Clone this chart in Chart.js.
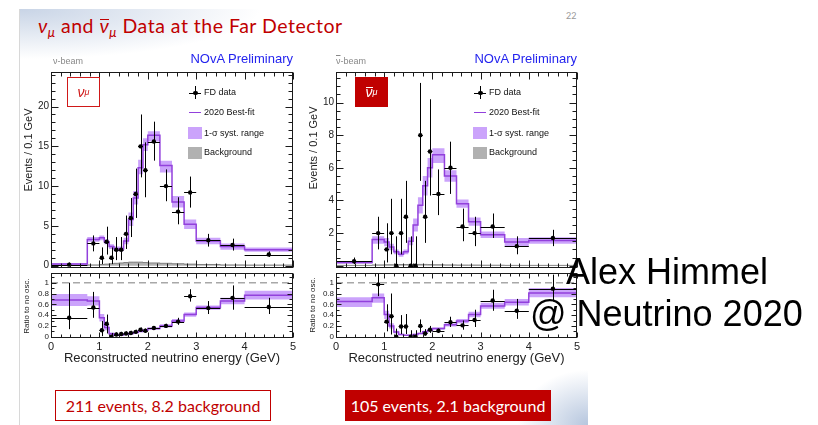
<!DOCTYPE html>
<html>
<head>
<meta charset="utf-8">
<script src="https://cdn.jsdelivr.net/npm/chart.js@4.4.1/dist/chart.umd.min.js"></script>
<style>
  html, body { margin: 0; padding: 0; background: #fff; }
  #slide { position: relative; width: 818px; height: 425px; overflow: hidden; background: #fff; font-family: "Liberation Sans", Arial, sans-serif; }
  .abs { position: absolute; white-space: nowrap; line-height: 1; }
  canvas { position: absolute; }
  .page { position: absolute; left: 19px; top: 9px; width: 568px; height: 416px;
    background:
      radial-gradient(ellipse 240px 50px at 0 0, #c8d4e6 0%, rgba(255,255,255,0) 100%),
      radial-gradient(ellipse 70px 55px at 100% 100%, #b6c6de 0%, rgba(255,255,255,0) 100%);
    border-left: 1px solid #d8d8d8; }
  .title { left: 38px; top: 16px; font-family: Lato, sans-serif; font-size: 19.5px; letter-spacing: 0.5px; color: #c00000; }
  .title sub { font-size: 13px; vertical-align: -4px; }
  .over { text-decoration: overline; }
  .bar { display: inline-block; line-height: 0.6em; border-top: 1.3px solid currentColor; }
  .pageno { left: 566px; top: 11px; font-family: Lato, sans-serif; font-size: 9px; color: #999; }
  .nova { font-size: 13px; color: #2424ee; text-align: right; top: 52px; }
  .beam { font-size: 9px; color: #888; top: 57px; }
  .ytitle { font-size: 11px; color: #222; transform: translate(-50%, -50%) rotate(-90deg); }
  .rtitle { font-size: 8px; color: #222; transform: translate(-50%, -50%) rotate(-90deg); }
  .tag { width: 33px; height: 30px; box-sizing: border-box; display: flex; align-items: center; justify-content: center; font-size: 14px; }
  .tag sub { font-size: 9px; vertical-align: -4px; }
  .leg { font-size: 9px; color: #111; }
  .mk { position: absolute; }
  .events { height: 31px; box-sizing: border-box; display: flex; align-items: center; justify-content: center; font-family: Lato, sans-serif; font-size: 16px; }
  .author { font-size: 36px; color: #000; }
</style>
</head>
<body>
<div id="slide">
  <div class="page"></div>
  <div class="abs title"><i>ν</i><sub><i>μ</i></sub> and <i class="bar">ν</i><sub><i>μ</i></sub> Data at the Far Detector</div>
  <div class="abs pageno">22</div>

  <canvas id="numuTop" width="286" height="210" style="left:14px; top:62px;"></canvas>
  <canvas id="numuRatioPanel" width="286" height="100" style="left:14px; top:266px;"></canvas>
  <canvas id="anumuTop" width="285" height="210" style="left:299px; top:62px;"></canvas>
  <canvas id="anumuRatioPanel" width="285" height="100" style="left:299px; top:266px;"></canvas>

  <div class="abs beam" style="left:53px;">ν-beam</div>
  <div class="abs beam" style="left:336px;"><span class="over">ν</span>-beam</div>
  <div class="abs nova" style="right:525px;">NOvA Preliminary</div>
  <div class="abs nova" style="right:241px;">NOvA Preliminary</div>

  <div class="abs ytitle" style="left:28px; top:150px;">Events / 0.1 GeV</div>
  <div class="abs ytitle" style="left:313px; top:148px;">Events / 0.1 GeV</div>
  <div class="abs rtitle" style="left:27px; top:306px;">Ratio to no osc.</div>
  <div class="abs rtitle" style="left:313px; top:305px;">Ratio to no osc.</div>

  <div class="abs tag" style="left:67px; top:77px; border:1.5px solid #d01818; color:#d01818;"><i>ν</i><sub><i>μ</i></sub></div>
  <div class="abs tag" style="left:355px; top:77px; background:#c00000; color:#fff;"><i class="bar">ν</i><sub><i>μ</i></sub></div>

  <div id="legNumu"></div>
  <div id="legAnumu"></div>

  <div class="abs events" style="left:55px; top:390px; width:216px; border:1.5px solid #c00000; color:#c00000; background:#fff;">211 events, 8.2 background</div>
  <div class="abs events" style="left:345px; top:390px; width:206px; background:#c00000; color:#fff;">105 events, 2.1 background</div>

  <div class="abs author" style="left:566px; top:254px;">Alex Himmel</div>
  <div class="abs author" style="left:530px; top:296px;">@ Neutrino 2020</div>
</div>

<script>
// binning in reconstructed energy (GeV)
const binEdges = [0, 0.75, 1, 1.1, 1.2, 1.3, 1.4, 1.5, 1.6, 1.7, 1.8, 1.9, 2, 2.25, 2.5, 2.75, 3, 3.5, 4, 5];
const energyTicks = [0, 1, 2, 3, 4, 5];
const numuTicks = [0, 5, 10, 15, 20];
const anumuTicks = [2, 4, 6, 8, 10];
const ratioTicks = [0, 0.2, 0.4, 0.6, 0.8, 1];

// numu, events / 0.1 GeV
const numuData   = [0.13, 2.8, 1.0, 3.0, 1.0, 2.0, 2.0, 4.0, 6.0, 9.0, 15.0, 12.0, 15.6, 10.0, 6.8, 9.2, 3.2, 2.6, 1.4];
const numuDataLo = [0.02, 1.8, 0.2, 1.4, 0.2, 0.7, 0.7, 2.1, 3.6, 6.0, 11.1, 8.6, 13.2, 8.1, 5.2, 7.3, 2.4, 1.9, 1.1];
const numuDataHi = [0.4, 3.8, 2.3, 4.9, 2.3, 3.6, 3.6, 6.3, 8.5, 12.2, 19.0, 15.5, 18.1, 12.1, 8.6, 11.2, 4.0, 3.4, 1.8];
const numuFit    = [0.2, 3.3, 3.5, 3.0, 2.4, 2.1, 2.1, 3.1, 5.8, 8.5, 12.3, 15.2, 16.4, 12.6, 8.0, 5.2, 3.1, 2.4, 2.0];
const numuFitLo  = [0.1, 3.0, 3.2, 2.7, 2.1, 1.8, 1.8, 2.7, 5.0, 7.7, 11.5, 14.4, 15.6, 11.7, 7.3, 4.6, 2.7, 2.0, 1.75];
const numuFitHi  = [0.3, 3.6, 3.8, 3.3, 2.7, 2.4, 2.4, 3.5, 6.7, 9.4, 13.3, 16.0, 16.9, 13.2, 8.75, 5.8, 3.5, 2.8, 2.3];
const numuBkg    = [0.03, 0.1, 0.15, 0.2, 0.25, 0.3, 0.35, 0.4, 0.45, 0.45, 0.45, 0.4, 0.35, 0.3, 0.25, 0.2, 0.15, 0.1, 0.08];

// numu, ratio to no oscillation
const numuRatio      = [0.35, 0.54, 0.12, 0.24, 0.0, 0.04, 0.05, 0.06, 0.07, 0.09, 0.13, 0.11, 0.16, 0.2, 0.28, 0.75, 0.53, 0.72, 0.55];
const numuRatioLo    = [0.14, 0.35, 0.01, 0.06, 0.0, 0.01, 0.02, 0.03, 0.04, 0.06, 0.1, 0.08, 0.14, 0.17, 0.22, 0.65, 0.42, 0.5, 0.42];
const numuRatioHi    = [1.0, 0.83, 0.29, 0.41, 0.07, 0.08, 0.09, 0.1, 0.11, 0.13, 0.17, 0.15, 0.19, 0.24, 0.35, 0.88, 0.66, 0.95, 0.72];
const numuRatioFit   = [0.68, 0.66, 0.35, 0.17, 0.055, 0.03, 0.03, 0.045, 0.06, 0.08, 0.1, 0.12, 0.15, 0.2, 0.29, 0.41, 0.54, 0.66, 0.77];
const numuRatioFitLo = [0.57, 0.58, 0.28, 0.12, 0.03, 0.015, 0.015, 0.03, 0.04, 0.06, 0.08, 0.1, 0.13, 0.17, 0.26, 0.37, 0.5, 0.6, 0.69];
const numuRatioFitHi = [0.79, 0.75, 0.42, 0.22, 0.08, 0.045, 0.045, 0.06, 0.08, 0.1, 0.12, 0.14, 0.17, 0.23, 0.33, 0.45, 0.58, 0.72, 0.85];

// anti-numu, events / 0.1 GeV
const anumuData   = [0.27, 2.0, 1.0, 2.0, 0, 2.0, 3.0, 0, 0, 8.0, 3.0, 7.0, 4.4, 6.0, 2.4, 2.0, 2.4, 1.2, 1.7];
const anumuDataLo = [0.1, 1.0, 0.2, 0.7, 0, 0.7, 1.4, 0, 0, 5.2, 1.4, 4.3, 3.1, 4.4, 1.5, 1.2, 1.7, 0.7, 1.2];
const anumuDataHi = [0.5, 3.0, 2.6, 4.1, 1.8, 4.1, 5.2, 1.8, 1.8, 11.2, 5.2, 10.2, 5.9, 7.6, 3.5, 3.0, 3.2, 1.8, 2.2];
const anumuFit    = [0.2, 1.6, 1.45, 1.15, 0.85, 0.7, 0.85, 1.5, 2.5, 3.7, 4.9, 6.0, 6.8, 5.5, 3.8, 2.7, 1.9, 1.45, 1.55];
const anumuFitLo  = [0.12, 1.35, 1.2, 0.95, 0.7, 0.55, 0.7, 1.25, 2.1, 3.2, 4.3, 5.4, 6.3, 5.15, 3.55, 2.45, 1.7, 1.2, 1.35];
const anumuFitHi  = [0.28, 1.8, 1.7, 1.35, 1.0, 0.85, 1.0, 1.75, 2.9, 4.2, 5.5, 6.6, 7.2, 5.85, 4.05, 2.95, 2.1, 1.7, 1.75];
const anumuBkg    = [0.02, 0.05, 0.06, 0.06, 0.06, 0.07, 0.07, 0.08, 0.08, 0.08, 0.08, 0.07, 0.06, 0.05, 0.04, 0.04, 0.03, 0.02, 0.02];

// anti-numu, ratio to no oscillation
const anumuRatio      = [null, 0.97, 0.28, 0.38, 0.0, 0.19, 0.19, 0.0, 0.0, 0.2, 0.06, 0.13, 0.11, 0.27, 0.21, 0.31, 0.67, 0.48, 0.89];
const anumuRatioLo    = [null, 0.75, 0.1, 0.04, 0.0, 0.05, 0.05, 0.0, 0.0, 0.08, 0.02, 0.07, 0.07, 0.18, 0.13, 0.18, 0.48, 0.33, 0.65];
const anumuRatioHi    = [null, 1.2, 0.6, 0.8, 0.15, 0.4, 0.42, 0.12, 0.12, 0.32, 0.14, 0.2, 0.15, 0.37, 0.3, 0.5, 0.87, 0.7, 1.15];
const anumuRatioFit   = [0.65, 0.72, 0.41, 0.2, 0.085, 0.04, 0.025, 0.025, 0.04, 0.06, 0.09, 0.12, 0.15, 0.22, 0.29, 0.41, 0.57, 0.64, 0.81];
const anumuRatioFitLo = [0.55, 0.63, 0.33, 0.15, 0.06, 0.025, 0.015, 0.015, 0.025, 0.045, 0.07, 0.1, 0.13, 0.19, 0.25, 0.36, 0.52, 0.58, 0.73];
const anumuRatioFitHi = [0.73, 0.8, 0.48, 0.25, 0.11, 0.055, 0.035, 0.035, 0.055, 0.075, 0.11, 0.14, 0.17, 0.25, 0.33, 0.46, 0.63, 0.7, 0.9];

const axisFont = '"Liberation Sans", Arial, sans-serif';
const fitLine = '#9240dc';
const bandFill = 'rgba(190, 140, 250, 0.8)';
const bkgFill = 'rgba(125, 125, 125, 0.6)';

// step histogram: value i holds from edge i to edge i+1
function histPoints(vals) {
    return binEdges.map((e, i) => ({ x: e, y: vals[Math.min(i, vals.length - 1)] }));
}

function centrePoints(vals) {
    return vals.map((v, i) => ({ x: (binEdges[i] + binEdges[i + 1]) / 2, y: v }));
}

// horizontal bin-width bar + vertical stat error for data points
const errorBars = {
    id: 'errorBars',
    afterDatasetsDraw(chart) {
        const { ctx, chartArea: a, scales: { x, y } } = chart;
        chart.data.datasets.forEach(ds => {
            if (!ds.errLo) return;
            ctx.save();
            ctx.beginPath();
            ctx.rect(a.left, a.top, a.width, a.height);
            ctx.clip();
            ctx.strokeStyle = '#000';
            ctx.lineWidth = 1;
            ds.vals.forEach((v, i) => {
                if (v === null) return;
                const xl = x.getPixelForValue(binEdges[i]);
                const xr = x.getPixelForValue(binEdges[i + 1]);
                const xc = Math.round(x.getPixelForValue((binEdges[i] + binEdges[i + 1]) / 2)) + 0.5;
                const yc = Math.round(y.getPixelForValue(v)) + 0.5;
                ctx.beginPath();
                ctx.moveTo(xl, yc);
                ctx.lineTo(xr, yc);
                ctx.moveTo(xc, y.getPixelForValue(ds.errLo[i]));
                ctx.lineTo(xc, y.getPixelForValue(ds.errHi[i]));
                ctx.stroke();
            });
            ctx.restore();
        });
    }
};

// ROOT-style box with inward ticks on all four sides
const rootFrame = {
    id: 'rootFrame',
    afterDraw(chart, args, o) {
        const { ctx, chartArea: a, scales: { x, y } } = chart;
        ctx.save();
        ctx.strokeStyle = '#1a1a1a';
        ctx.lineWidth = 1;
        const L = Math.round(a.left) + 0.5, R = Math.round(a.right) - 0.5;
        const T = Math.round(a.top) + 0.5, B = Math.round(a.bottom) - 0.5;
        ctx.strokeRect(L, T, R - L, B - T);
        ctx.beginPath();
        const steps = (scale, minor, major, draw) => {
            const k0 = Math.ceil(scale.min / minor - 1e-6), k1 = Math.floor(scale.max / minor + 1e-6);
            for (let k = k0; k <= k1; k++) {
                const v = k * minor;
                const isMajor = Math.abs(v / major - Math.round(v / major)) < 1e-6;
                draw(Math.round(scale.getPixelForValue(v)) + 0.5, isMajor ? o.major : o.minor);
            }
        };
        steps(x, o.xMinor, o.xMajor, (px, len) => {
            ctx.moveTo(px, B); ctx.lineTo(px, B - len);
            ctx.moveTo(px, T); ctx.lineTo(px, T + len);
        });
        steps(y, o.yMinor, o.yMajor, (py, len) => {
            ctx.moveTo(L, py); ctx.lineTo(L + len, py);
            ctx.moveTo(R, py); ctx.lineTo(R - len, py);
        });
        ctx.stroke();
        ctx.restore();
    }
};

function panel(id, cfg) {
    const datasets = [
        {
            type: 'scatter', data: centrePoints(cfg.data), vals: cfg.data, errLo: cfg.dataLo, errHi: cfg.dataHi,
            pointRadius: 2.2, pointBackgroundColor: '#000', pointBorderWidth: 0
        },
        {
            type: 'line', data: histPoints(cfg.fit), stepped: 'before', borderColor: fitLine, borderWidth: 1.5,
            pointRadius: 0, fill: false
        }
    ];
    if (cfg.bkg) {
        datasets.push({
            type: 'line', data: histPoints(cfg.bkg), stepped: 'before', borderColor: 'rgba(110,110,110,0.8)',
            borderWidth: 1, backgroundColor: bkgFill, pointRadius: 0, fill: 'origin'
        });
    }
    if (cfg.unity) {
        datasets.push({
            type: 'line', data: [{ x: 0, y: 1 }, { x: 5, y: 1 }], borderColor: '#a8a8a8', borderWidth: 1.5,
            borderDash: [7, 4], pointRadius: 0, fill: false
        });
    }
    datasets.push({
        type: 'line', data: histPoints(cfg.fitLo), stepped: 'before', borderColor: 'rgba(0,0,0,0)',
        borderWidth: 1, pointRadius: 0, fill: false
    });
    datasets.push({
        type: 'line', data: histPoints(cfg.fitHi), stepped: 'before', borderColor: 'rgba(0,0,0,0)',
        borderWidth: 1, pointRadius: 0, fill: '-1', backgroundColor: bandFill
    });

    return new Chart(document.getElementById(id), {
        type: 'line',
        data: { datasets },
        options: {
            responsive: false,
            animation: false,
            events: [],
            layout: { padding: { left: 0, top: cfg.padTop, right: 7, bottom: cfg.padBottom } },
            scales: {
                x: {
                    type: 'linear', min: 0, max: 5, display: cfg.showX,
                    grid: { display: false, drawTicks: false }, border: { display: false },
                    afterBuildTicks: s => { s.ticks = energyTicks.map(v => ({ value: v })); },
                    ticks: { font: { family: axisFont, size: 11 }, color: '#222', padding: 2, maxRotation: 0, autoSkip: false },
                    title: {
                        display: cfg.showX, text: 'Reconstructed neutrino energy (GeV)',
                        font: { family: axisFont, size: 13 }, color: '#222', padding: 0
                    },
                    afterFit: s => { s.height = cfg.showX ? 28 : 0; s.paddingLeft = 0; s.paddingRight = 0; }
                },
                y: {
                    type: 'linear', min: cfg.yMin, max: cfg.yMax,
                    grid: { display: false, drawTicks: false }, border: { display: false },
                    afterBuildTicks: s => { s.ticks = cfg.yTicks.map(v => ({ value: v })); },
                    ticks: {
                        font: { family: axisFont, size: cfg.yFont }, color: '#222', padding: 2, autoSkip: false,
                        callback: v => String(Math.round(v * 100) / 100)
                    },
                    afterFit: s => { s.width = 37; s.paddingTop = 0; s.paddingBottom = 0; }
                }
            },
            plugins: {
                legend: { display: false },
                tooltip: { enabled: false },
                rootFrame: cfg.frame
            }
        },
        plugins: [errorBars, rootFrame]
    });
}

const topFrame = (yMinor, yMajor) => ({ xMinor: 0.2, xMajor: 1, yMinor, yMajor, major: 7, minor: 4 });
const ratioFrame = { xMinor: 0.2, xMajor: 1, yMinor: 0.1, yMajor: 0.2, major: 5, minor: 3 };

panel('numuTop', {
    data: numuData, dataLo: numuDataLo, dataHi: numuDataHi,
    fit: numuFit, fitLo: numuFitLo, fitHi: numuFitHi, bkg: numuBkg,
    yMin: -0.29, yMax: 24.34, yTicks: numuTicks, yFont: 10,
    showX: false, padTop: 10, padBottom: 3, frame: topFrame(1, 5)
});
panel('anumuTop', {
    data: anumuData, dataLo: anumuDataLo, dataHi: anumuDataHi,
    fit: anumuFit, fitLo: anumuFitLo, fitHi: anumuFitHi, bkg: anumuBkg,
    yMin: -0.14, yMax: 11.87, yTicks: anumuTicks, yFont: 10,
    showX: false, padTop: 10, padBottom: 3, frame: topFrame(0.5, 2)
});
panel('numuRatioPanel', {
    data: numuRatio, dataLo: numuRatioLo, dataHi: numuRatioHi,
    fit: numuRatioFit, fitLo: numuRatioFitLo, fitHi: numuRatioFitHi, unity: true,
    yMin: -0.024, yMax: 1.18, yTicks: ratioTicks, yFont: 8,
    showX: true, padTop: 7, padBottom: 0, frame: ratioFrame
});
panel('anumuRatioPanel', {
    data: anumuRatio, dataLo: anumuRatioLo, dataHi: anumuRatioHi,
    fit: anumuRatioFit, fitLo: anumuRatioFitLo, fitHi: anumuRatioFitHi, unity: true,
    yMin: -0.024, yMax: 1.18, yTicks: ratioTicks, yFont: 8,
    showX: true, padTop: 7, padBottom: 0, frame: ratioFrame
});

// in-frame legends
function legend(holder, mx, tx) {
    const rows = [92.7, 112.7, 133, 152.7];
    const labels = ['FD data', '2020 Best-fit', '1-σ syst. range', 'Background'];
    let html = '';
    html += `<div class="mk" style="left:${mx - 6}px; top:${rows[0]}px; width:12px; height:1px; background:#000;"></div>`;
    html += `<div class="mk" style="left:${mx}px; top:${rows[0] - 6.5}px; width:1px; height:13px; background:#000;"></div>`;
    html += `<div class="mk" style="left:${mx - 1.7}px; top:${rows[0] - 1.7}px; width:4.4px; height:4.4px; border-radius:50%; background:#000;"></div>`;
    html += `<div class="mk" style="left:${mx - 6}px; top:${rows[1] - 0.75}px; width:12px; height:1.5px; background:${fitLine};"></div>`;
    html += `<div class="mk" style="left:${mx - 7}px; top:${rows[2] - 6}px; width:14px; height:12px; background:${bandFill};"></div>`;
    html += `<div class="mk" style="left:${mx - 7}px; top:${rows[3] - 6}px; width:14px; height:12px; background:${bkgFill};"></div>`;
    labels.forEach((t, i) => {
        html += `<div class="abs leg" style="left:${tx}px; top:${rows[i] - 4.4}px;">${t}</div>`;
    });
    document.getElementById(holder).innerHTML = html;
}
legend('legNumu', 195, 204);
legend('legAnumu', 480, 489);
</script>
</body>
</html>
